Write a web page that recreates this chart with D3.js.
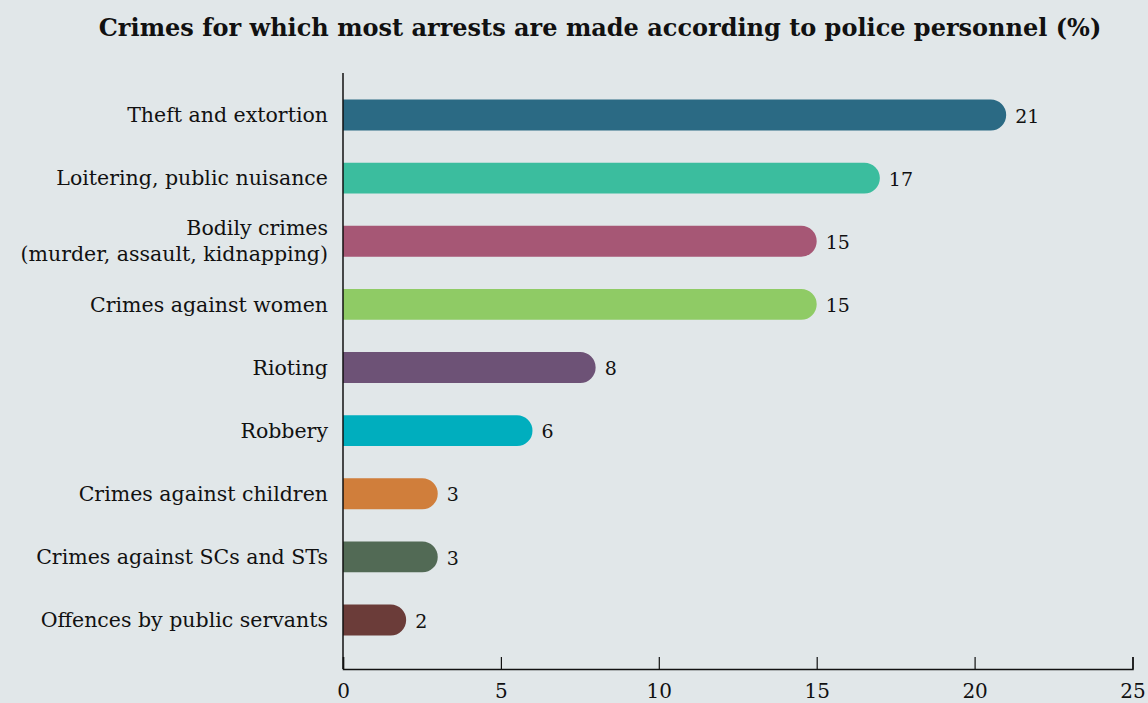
<!DOCTYPE html>
<html>
<head>
<meta charset="utf-8">
<script src="https://cdn.jsdelivr.net/npm/d3@7"></script>
<style>
  html, body { margin: 0; padding: 0; background: #e1e7e9; }
  svg { display: block; }
  text { font-family: "DejaVu Serif", "Liberation Serif", serif; fill: #111; }
</style>
</head>
<body>
<svg id="chart" width="1148" height="703"></svg>
<script>
// Share of police personnel naming each crime category (%)
const categories = [
  "Theft and extortion",
  "Loitering, public nuisance",
  "Bodily crimes\n(murder, assault, kidnapping)",
  "Crimes against women",
  "Rioting",
  "Robbery",
  "Crimes against children",
  "Crimes against SCs and STs",
  "Offences by public servants"
];
const values = [21, 17, 15, 15, 8, 6, 3, 3, 2];
const colors = ["#2b6a84", "#3bbd9e", "#a65775", "#8fcb65", "#6d5276", "#00aebe", "#d07e3b", "#526a55", "#6b3c39"];
const xTicks = [0, 5, 10, 15, 20, 25];
const titleText = "Crimes for which most arrests are made according to police personnel (%)";

const svg = d3.select("#chart");
const W = 1148, H = 703;
const axisY = 669;

svg.append("rect").attr("width", W).attr("height", H).attr("fill", "#e1e7e9");

svg.append("text")
  .attr("x", 600).attr("y", 36)
  .attr("text-anchor", "middle")
  .style("font-weight", "bold")
  .style("font-size", "24px")
  .text(titleText);

const x = d3.scaleLinear().domain([0, 25]).range([343, 1132.5]);
const y = d3.scaleBand()
  .domain(categories)
  .range([83.4, 651.6])
  .paddingInner(0.51)
  .paddingOuter(0.255);

const data = categories.map((c, i) => ({ c, v: values[i], color: colors[i] }));

// bars: square at the baseline, rounded at the value end
const bh = y.bandwidth();
const r = bh / 2;
svg.append("g").selectAll("path")
  .data(data)
  .join("path")
  .attr("fill", d => d.color)
  .attr("d", d => {
    const x0 = x(0), x1 = x(d.v), y0 = y(d.c), y1 = y0 + bh;
    return `M${x0},${y0}H${x1 - r}A${r},${r} 0 0 1 ${x1 - r},${y1}H${x0}Z`;
  });

// value labels
svg.append("g").selectAll("text")
  .data(data)
  .join("text")
  .attr("x", d => x(d.v) + 9)
  .attr("y", d => y(d.c) + bh / 2)
  .attr("dy", "0.4em")
  .style("font-size", "19px")
  .text(d => d.v);

// category labels
const fs = 20.5;
const lab = svg.append("g").selectAll("text")
  .data(data)
  .join("text")
  .attr("text-anchor", "end")
  .attr("x", 328)
  .attr("y", d => y(d.c) + bh / 2)
  .style("font-size", fs + "px");
lab.each(function(d) {
  const lines = d.c.split("\n");
  const t = d3.select(this);
  const lh = 26;
  lines.forEach((ln, i) => {
    t.append("tspan")
      .attr("x", 328)
      .attr("dy", i === 0 ? (0.35 - (lines.length - 1) * 0.5 * lh / fs) + "em" : lh + "px")
      .text(ln);
  });
});

// vertical baseline
svg.append("line")
  .attr("x1", 343).attr("x2", 343)
  .attr("y1", 73).attr("y2", axisY)
  .attr("stroke", "#111").attr("stroke-width", 1.5);

// bottom axis with upward ticks
const xAxis = d3.axisBottom(x).tickValues(xTicks).tickSize(-12).tickPadding(0);
const ax = svg.append("g").attr("transform", `translate(0,${axisY})`).call(xAxis);
ax.select(".domain").attr("stroke", "#111").attr("stroke-width", 1.5);
ax.selectAll(".tick line").attr("stroke", "#111").attr("stroke-width", 1.2);
ax.selectAll(".tick text")
  .attr("y", 21)
  .attr("dy", "0.4em")
  .style("font-size", "20px")
  .style("font-family", "\"DejaVu Serif\", serif")
  .attr("fill", "#111");
</script>
</body>
</html>
